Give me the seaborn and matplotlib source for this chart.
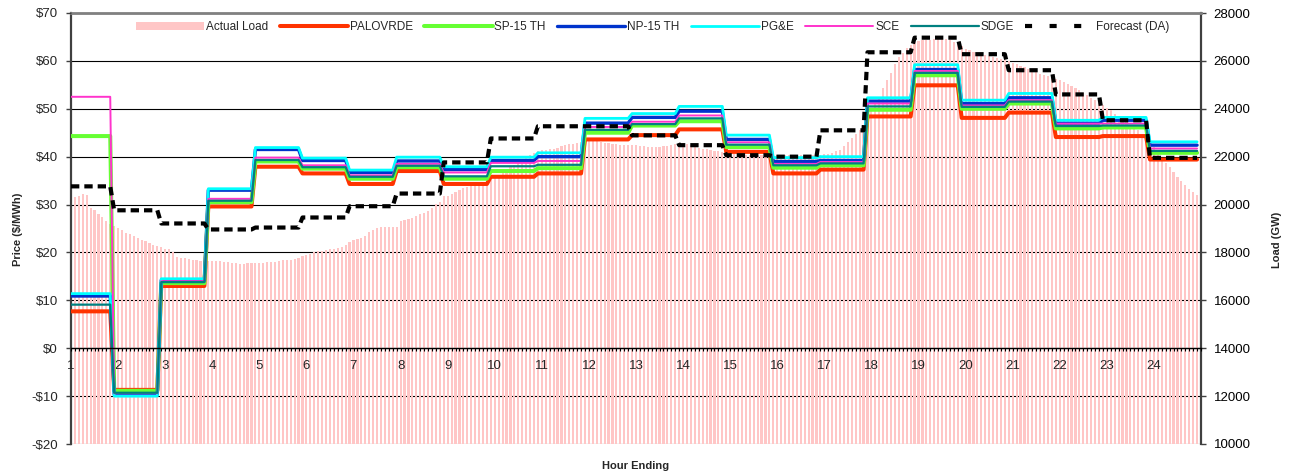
import numpy as np
import matplotlib
matplotlib.use("Agg")
import matplotlib.pyplot as plt
import seaborn as sns
from matplotlib.lines import Line2D
from matplotlib.patches import Patch
from matplotlib.ticker import FuncFormatter, MultipleLocator

sns.set_style("white")
plt.rcParams['font.family'] = ['Liberation Sans', 'DejaVu Sans']

# Hourly prices ($/MWh), hour ending 1..24
hours = list(range(1, 25))
palovrde = [7.7, -8.7, 13.0, 29.6, 37.9, 36.5, 34.3, 37.0, 34.3, 35.8, 36.5, 43.6,
            44.5, 45.7, 41.0, 36.5, 37.3, 48.4, 54.9, 48.1, 49.2, 44.1, 44.3, 39.4]
sp15 = [44.3, -8.9, 13.6, 30.5, 39.0, 37.5, 35.4, 37.8, 35.4, 37.0, 37.6, 45.0,
        46.5, 47.4, 42.0, 37.7, 38.2, 49.8, 57.0, 50.0, 51.1, 45.9, 46.1, 40.8]
np15 = [10.9, -9.6, 14.2, 33.0, 41.5, 39.2, 36.7, 39.1, 37.3, 39.2, 40.0, 47.0,
        48.2, 49.5, 43.6, 39.0, 39.2, 51.6, 58.2, 51.1, 52.3, 47.0, 47.6, 42.4]
pge = [11.4, -10.0, 14.5, 33.3, 41.9, 39.7, 37.2, 39.9, 37.9, 39.9, 40.8, 48.0,
       49.0, 50.5, 44.5, 39.8, 40.0, 52.3, 59.2, 51.8, 53.2, 47.6, 48.2, 43.1]
sce = [52.5, -9.4, 14.0, 31.2, 39.8, 38.2, 36.1, 38.5, 36.7, 38.7, 39.1, 46.2,
       47.3, 48.6, 43.0, 38.5, 38.9, 51.1, 57.9, 50.7, 51.8, 46.9, 46.9, 41.7]
sdge = [9.1, -9.3, 13.8, 30.8, 39.3, 37.8, 35.8, 38.1, 35.9, 38.0, 38.3, 45.6,
        46.8, 48.0, 42.5, 38.2, 38.6, 50.5, 57.5, 50.4, 51.5, 46.4, 46.5, 41.2]

# Day-ahead load forecast (right axis), hourly
forecast_da = [20760, 19760, 19210, 18960, 19040, 19460, 19930, 20460, 21760, 22760, 23270, 23270,
               22890, 22480, 22060, 22000, 23100, 26360, 26970, 26280, 25610, 24600, 23520, 21950]

# Actual load, 5-minute values (one row per hour)
actual_load = [
    [20250, 20320, 20360, 20460, 20390, 19860, 19760, 19620, 19460, 19320, 19200, 19090],
    [19010, 18930, 18830, 18760, 18680, 18590, 18510, 18460, 18400, 18310, 18260, 18230],
    [18160, 18160, 18000, 17810, 17760, 17750, 17740, 17680, 17670, 17660, 17650, 17640],
    [17640, 17640, 17630, 17620, 17600, 17580, 17540, 17530, 17530, 17540, 17570, 17580],
    [17580, 17580, 17590, 17600, 17620, 17650, 17670, 17680, 17700, 17740, 17780, 17840],
    [17880, 17950, 18000, 18040, 18060, 18090, 18130, 18140, 18200, 18240, 18320, 18440],
    [18510, 18550, 18620, 18680, 18850, 18930, 19040, 19065, 19065, 19065, 19065, 19070],
    [19320, 19370, 19400, 19450, 19520, 19590, 19640, 19720, 19850, 20040, 20110, 20340],
    [20350, 20450, 20520, 20600, 20690, 20750, 20830, 20890, 20940, 20960, 20980, 21010],
    [21130, 21160, 21300, 21420, 21550, 21650, 21780, 21880, 21980, 22070, 22150, 22220],
    [22260, 22290, 22320, 22340, 22380, 22430, 22490, 22510, 22530, 22580, 22610, 22640],
    [22680, 22690, 22660, 22620, 22580, 22560, 22540, 22520, 22500, 22490, 22480, 22470],
    [22470, 22460, 22440, 22420, 22400, 22400, 22410, 22430, 22460, 22490, 22520, 22540],
    [22550, 22520, 22480, 22430, 22380, 22340, 22310, 22280, 22250, 22220, 22200, 22180],
    [22160, 22130, 22100, 22080, 22070, 22060, 22060, 22050, 22050, 22050, 22050, 22050],
    [22050, 22050, 22050, 22060, 22060, 22060, 22060, 22060, 22060, 22070, 22070, 22080],
    [22100, 22130, 22170, 22220, 22270, 22430, 22600, 22760, 22950, 23100, 23300, 23550],
    [23900, 24200, 24500, 24850, 25200, 25500, 25850, 26150, 26350, 26520, 26680, 26790],
    [26840, 26860, 26870, 26890, 26910, 26930, 26930, 26920, 26860, 26790, 26700, 26620],
    [26500, 26440, 26380, 26330, 26290, 26250, 26210, 26180, 26120, 26080, 26030, 25980],
    [25920, 25860, 25800, 25730, 25660, 25600, 25540, 25470, 25420, 25360, 25300, 25240],
    [25190, 25110, 25020, 24940, 24860, 24770, 24670, 24570, 24460, 24350, 24250, 24150],
    [24050, 23930, 23800, 23680, 23560, 23440, 23330, 23210, 23100, 22960, 22800, 22620],
    [22400, 22150, 21950, 21750, 21550, 21350, 21160, 20980, 20820, 20650, 20520, 20400],
]

# 5-minute category positions; hourly values are held for each interval
n = 288
x5 = 1 + np.arange(n) / 12
hour_idx = np.minimum((np.arange(n) + 1) // 12, 23)
load5 = np.array(actual_load).ravel()

series = [
    ("PALOVRDE", palovrde, "#FF3300", 2.9),
    ("SP-15 TH", sp15, "#66FF33", 2.9),
    ("NP-15 TH", np15, "#0033CC", 2.4),
    ("PG&E", pge, "#00FFFF", 2.0),
    ("SCE", sce, "#FF33CC", 1.4),
    ("SDGE", sdge, "#008080", 1.6),
]

fig = plt.figure(figsize=(12.94, 4.76), dpi=100)
ax_load = fig.add_axes([71 / 1294, 1 - 444 / 476, 1130 / 1294, 431 / 476])
ax_price = ax_load.twinx()
ax_fc = ax_load.twinx()

# Actual load bars
sns.barplot(x=x5, y=load5, native_scale=True, width=0.55, color="#FFC6C6",
            saturation=1, errorbar=None, linewidth=0, ax=ax_load)

# Price lines
for name, vals, col, lw in series:
    sns.lineplot(x=x5, y=np.asarray(vals)[hour_idx], color=col, lw=lw, ax=ax_price)

# Forecast (DA)
sns.lineplot(x=x5, y=np.asarray(forecast_da)[hour_idx], color="black", lw=3.0,
             linestyle=(0, (2.0, 1.2)), ax=ax_fc)

# --- axes styling
for a in (ax_load, ax_price, ax_fc):
    a.set_xlim(1, 25)
ax_load.set_ylim(10000, 28000)
ax_fc.set_ylim(10000, 28000)
ax_price.set_ylim(-20, 70)

ax_load.set_facecolor("white")
ax_load.set_axisbelow(True)
ax_load.yaxis.set_major_locator(MultipleLocator(2000))
ax_load.yaxis.tick_right()
ax_load.grid(axis="y", color="black", lw=0.8)
ax_load.grid(axis="x", visible=False)
ax_load.get_ygridlines()[0].set_visible(False)
ax_load.tick_params(axis="y", which="major", direction="out", length=3.5, width=1,
                    color="#404040", pad=5.5, labelsize=9.5, labelcolor="black",
                    right=True, left=False)
ax_load.xaxis.set_visible(False)
ax_load.spines["bottom"].set_visible(False)
ax_load.spines["top"].set_color("#808080")
ax_load.spines["top"].set_linewidth(2)
for s in ("left", "right"):
    ax_load.spines[s].set_visible(True)
    ax_load.spines[s].set_color("#404040")
    ax_load.spines[s].set_linewidth(1.6)
ax_load.set_ylabel("")
ax_load.set_xlabel("")

ax_price.yaxis.tick_left()
ax_price.yaxis.set_major_locator(MultipleLocator(10))
ax_price.yaxis.set_major_formatter(FuncFormatter(
    lambda v, p: f"${v:.0f}" if v >= 0 else f"-${-v:.0f}"))
ax_price.tick_params(axis="y", direction="out", length=3.5, width=1, color="#404040",
                     pad=6, labelsize=9.5, left=True, right=False)
ax_price.xaxis.set_visible(True)
ax_price.set_xticks(hours)
ax_price.set_xticklabels([str(h) for h in hours])
ax_price.xaxis.set_minor_locator(MultipleLocator(1 / 12))
ax_price.tick_params(axis="x", which="both", direction="out", length=2.5, width=0.8,
                     color="black", pad=6, labelsize=9.5, bottom=True, top=False)
for s in ("left", "right", "top"):
    ax_price.spines[s].set_visible(False)
ax_price.spines["bottom"].set_position(("data", 0))
ax_price.spines["bottom"].set_color("black")
ax_price.spines["bottom"].set_linewidth(1)
ax_price.grid(False)
ax_price.set_ylabel("")
ax_price.set_xlabel("")

ax_fc.set_axis_off()

fig.text(18 / 1294, 1 - 229 / 476, "Price ($/MWh)", rotation=90, ha="center",
         va="center", fontsize=8, fontweight="bold")
fig.text(1277 / 1294, 1 - 240 / 476, "Load (GW)", rotation=90, ha="center",
         va="center", fontsize=8, fontweight="bold")
fig.text(636 / 1294, 1 - 466 / 476, "Hour Ending", ha="center", va="center",
         fontsize=8, fontweight="bold")

handles = [Patch(facecolor="#FFC6C6", edgecolor="none")]
labels = ["Actual Load"]
for name, vals, col, lw in series:
    handles.append(Line2D([], [], color=col, lw=lw))
    labels.append(name)
handles.append(Line2D([], [], color="black", lw=3.0, linestyle=(0, (1.7, 4.2))))
labels.append("Forecast (DA)")
ax_fc.legend(handles, labels, loc="center left", bbox_to_anchor=(0.0575, 0.968),
             ncol=8, frameon=False, fontsize=8.5, handlelength=5.8, handletextpad=0.15,
             columnspacing=0.95, borderaxespad=0, borderpad=0)

fig.savefig("out.png", dpi=100)
